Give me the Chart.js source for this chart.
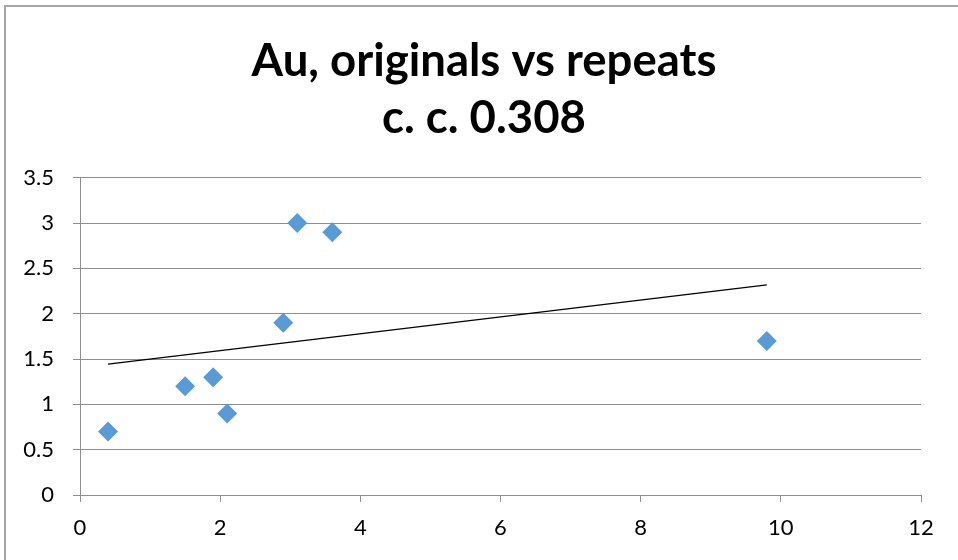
<!DOCTYPE html>
<html>
<head>
<meta charset="utf-8">
<script src="https://cdn.jsdelivr.net/npm/chart.js@4/dist/chart.umd.min.js"></script>
<style>
  html, body { margin: 0; padding: 0; background: #ffffff; }
  #wrap { width: 958px; height: 560px; position: relative; }
</style>
</head>
<body>
<div id="wrap"><canvas id="chart" width="958" height="560"></canvas></div>
<script>
// Au assays: original result vs repeat result
const originals = [0.4, 1.5, 1.9, 2.1, 2.9, 3.1, 3.6, 9.8];
const repeats   = [0.7, 1.2, 1.3, 0.9, 1.9, 3.0, 2.9, 1.7];
const titleLines = ['Au, originals vs repeats', 'c. c. 0.308'];
const xTicks = [0, 2, 4, 6, 8, 10, 12];
const yTicks = [0, 0.5, 1, 1.5, 2, 2.5, 3, 3.5];

// least-squares trend line across the sampled range
function linearFit(xs, ys) {
  const n = xs.length;
  const mx = xs.reduce((a, b) => a + b, 0) / n;
  const my = ys.reduce((a, b) => a + b, 0) / n;
  let sxy = 0, sxx = 0;
  for (let i = 0; i < n; i++) {
    sxy += (xs[i] - mx) * (ys[i] - my);
    sxx += (xs[i] - mx) * (xs[i] - mx);
  }
  const slope = sxy / sxx;
  return { slope, intercept: my - slope * mx };
}
const fit = linearFit(originals, repeats);
const xMin = Math.min(...originals), xMax = Math.max(...originals);
const trend = [
  { x: xMin, y: fit.intercept + fit.slope * xMin },
  { x: xMax, y: fit.intercept + fit.slope * xMax }
];
const points = originals.map((x, i) => ({ x, y: repeats[i] }));

const FONT = 'Lato, "Open Sans", "DejaVu Sans", sans-serif';
const GRID = '#8e8e8e';

// outer frame of the chart object; title centred over the whole frame
const framePlugin = {
  id: 'frame',
  afterLayout(chart) {
    if (chart.titleBlock) chart.titleBlock.left = 47;
  },
  beforeDraw(chart) {
    const c = chart.ctx;
    c.save();
    c.fillStyle = '#ffffff';
    c.fillRect(0, 0, chart.width, chart.height);
    c.strokeStyle = '#a6a6a6';
    c.lineWidth = 2;
    c.beginPath();
    c.moveTo(5, chart.height);
    c.lineTo(5, 6);
    c.lineTo(chart.width, 6);
    c.stroke();
    c.restore();
  }
};

new Chart(document.getElementById('chart'), {
  type: 'scatter',
  data: {
    datasets: [
      {
        type: 'line',
        data: trend,
        borderColor: '#000000',
        borderWidth: 1.3,
        pointRadius: 0,
        fill: false,
        order: 1
      },
      {
        data: points,
        pointStyle: 'rectRot',
        pointRadius: 10,
        backgroundColor: '#5b9bd5',
        borderWidth: 0,
        order: 0
      }
    ]
  },
  options: {
    responsive: false,
    animation: false,
    devicePixelRatio: 1,
    layout: { padding: { left: 0, right: 37, top: 0, bottom: 0 } },
    plugins: {
      legend: { display: false },
      tooltip: { enabled: false },
      title: {
        display: true,
        text: titleLines,
        color: '#000000',
        font: { family: FONT, size: 45.5, weight: 'bold', lineHeight: 1.25 },
        padding: { top: 33, bottom: 31 }
      }
    },
    scales: {
      x: {
        type: 'linear',
        min: 0, max: 12,
        afterBuildTicks(scale) { scale.ticks = xTicks.map(v => ({ value: v })); },
        afterFit(scale) { scale.height = 65; },
        grid: { drawOnChartArea: false, color: GRID, tickLength: 7, tickColor: GRID },
        border: { color: GRID, width: 1 },
        ticks: { color: '#000000', font: { family: FONT, size: 22 }, padding: 13,
                 callback: v => String(v) }
      },
      y: {
        type: 'linear',
        min: 0, max: 3.5,
        afterBuildTicks(scale) { scale.ticks = yTicks.map(v => ({ value: v })); },
        afterFit(scale) { scale.width = 80; },
        grid: { color: GRID, tickLength: 7, tickColor: GRID },
        border: { color: GRID, width: 1 },
        ticks: { color: '#000000', font: { family: FONT, size: 22 }, padding: 19,
                 callback: v => String(v) }
      }
    }
  },
  plugins: [framePlugin]
});
</script>
</body>
</html>
